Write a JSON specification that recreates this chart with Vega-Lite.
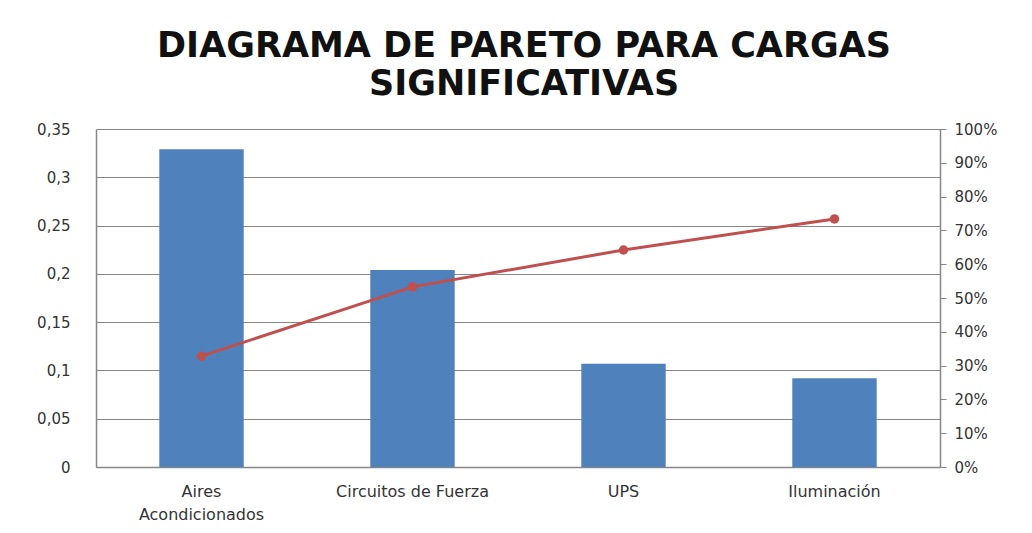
{
  "$schema": "https://vega.github.io/schema/vega-lite/v6.json",
  "width": 844,
  "height": 338,
  "autosize": {"type": "none"},
  "padding": {"left": 96, "top": 129, "right": 92, "bottom": 66},
  "background": "white",
  "config": {
    "locale": {"number": {"decimal": ",", "thousands": ".", "grouping": [3], "currency": ["", " €"]}},
    "view": {"stroke": null},
    "font": "DejaVu Sans"
  },
  "title": {
    "text": ["DIAGRAMA DE PARETO PARA CARGAS", "SIGNIFICATIVAS"],
    "font": "DejaVu Sans",
    "fontSize": 35,
    "fontWeight": "bold",
    "color": "#111111",
    "lineHeight": 38,
    "offset": 20,
    "anchor": "middle",
    "dx": 6
  },
  "data": {
    "values": [
      {"carga": "Aires Acondicionados", "valor": 0.329, "acumulado": 0.328},
      {"carga": "Circuitos de Fuerza", "valor": 0.204, "acumulado": 0.533},
      {"carga": "UPS", "valor": 0.107, "acumulado": 0.642},
      {"carga": "Iluminación", "valor": 0.092, "acumulado": 0.734}
    ]
  },
  "encoding": {
    "x": {
      "field": "carga",
      "type": "nominal",
      "sort": null,
      "scale": {"paddingInner": 0.6, "paddingOuter": 0.3},
      "axis": {
        "title": null,
        "labelAngle": 0,
        "labelExpr": "datum.value == 'Aires Acondicionados' ? ['Aires', 'Acondicionados'] : datum.value",
        "labelFont": "DejaVu Sans",
        "labelFontSize": 16,
        "labelColor": "#333333",
        "labelPadding": 16,
        "labelLineHeight": 23,
        "ticks": false,
        "domainColor": "#868686",
        "domainWidth": 1.5
      }
    }
  },
  "layer": [
    {
      "mark": {"type": "bar", "color": "#4F81BD"},
      "encoding": {
        "y": {
          "field": "valor",
          "type": "quantitative",
          "scale": {"domain": [0, 0.35], "nice": false},
          "axis": {
            "title": null,
            "values": [0, 0.05, 0.1, 0.15, 0.2, 0.25, 0.3, 0.35],
            "format": ".2~f",
            "labelFont": "DejaVu Sans",
            "labelFontSize": 15,
            "labelColor": "#333333",
            "labelPadding": 26,
            "ticks": false,
            "domainColor": "#868686",
            "domainWidth": 1.5,
            "gridColor": "#868686",
            "gridWidth": 1
          }
        }
      }
    },
    {
      "mark": {"type": "line", "color": "#C0504D", "strokeWidth": 3, "point": {"color": "#C0504D", "size": 90, "filled": true}},
      "encoding": {
        "y": {
          "field": "acumulado",
          "type": "quantitative",
          "scale": {"domain": [0, 1], "nice": false},
          "axis": {
            "title": null,
            "orient": "right",
            "grid": false,
            "values": [0, 0.1, 0.2, 0.3, 0.4, 0.5, 0.6, 0.7, 0.8, 0.9, 1],
            "format": ".0%",
            "labelFont": "DejaVu Sans",
            "labelFontSize": 15,
            "labelColor": "#333333",
            "labelPadding": 8,
            "tickColor": "#868686",
            "tickSize": 6,
            "domainColor": "#868686",
            "domainWidth": 1.5
          }
        }
      }
    }
  ],
  "resolve": {"scale": {"y": "independent"}}
}
